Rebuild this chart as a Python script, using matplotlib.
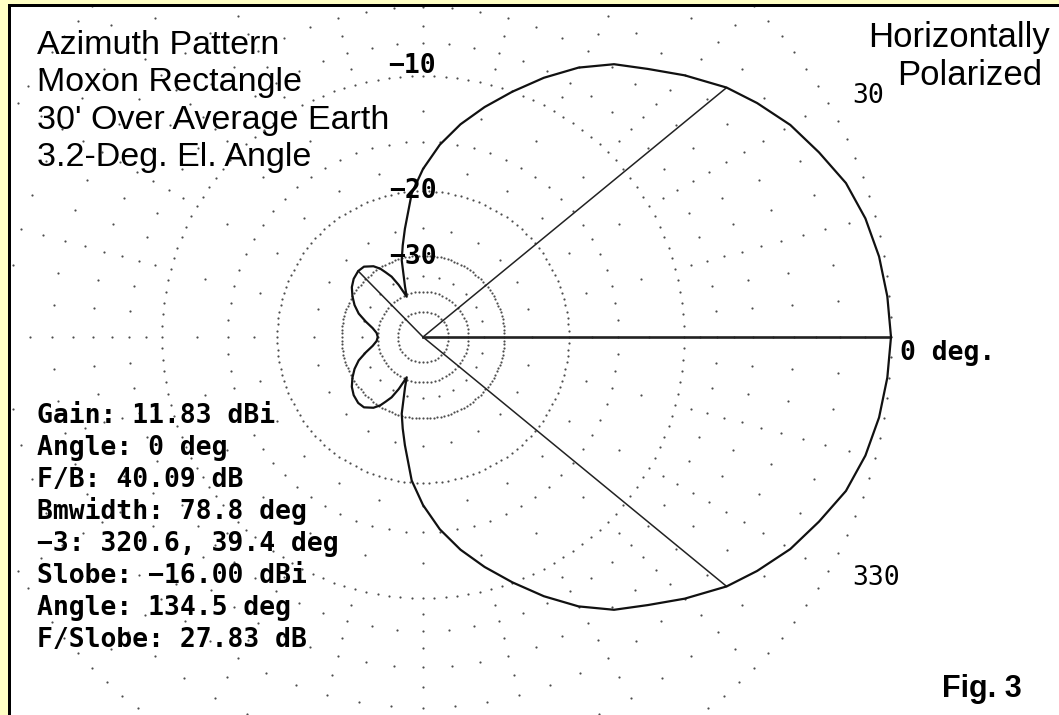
import numpy as np
import matplotlib
matplotlib.use('Agg')
import matplotlib.pyplot as plt
from matplotlib.patches import Rectangle

# azimuth pattern, dB relative to max (0..180 deg, the other half is its mirror)
az_deg = np.array([0, 5, 10, 15, 20, 25, 30, 35, 39.4, 45, 50, 55, 60, 65, 70, 75, 80, 85, 90,
                   94.5, 99.5, 102.5, 105.5, 109.7, 112, 115, 117.5, 120, 122, 125, 130, 134.5,
                   140, 145, 150, 155, 160, 165, 170, 175, 180])
rel_db = np.array([0, -0.07, -0.18, -0.37, -0.67, -1.18, -1.69, -2.36, -3.0, -4.03, -4.99, -5.84,
                   -7.01, -8.45, -10.02, -11.6, -13.27, -15.2, -17.58, -20.23, -24.9, -27.6,
                   -30.4, -37.3, -40.8, -36.0, -33.1, -31.5, -30.2, -29.0, -27.95, -27.83, -28.2,
                   -28.9, -30.0, -31.3, -33.0, -35.5, -38.0, -39.6, -40.09])

max_deg = 0.0
bw_deg = [39.4, 320.6]
bw_db = -3.0
slobe_deg = 134.5
slobe_db = -27.83

ring_db = [0, -10, -20, -30, -40, -50]
ring_step = [2.5, 2.5, 2.5, 2.5, 5, 9]
ring_labels = {-10: '\u221210', -20: '\u221220', -30: '\u221230'}
spoke_major = [-1, -2, -3, -4, -5, -6, -7, -8, -9, -12.5, -15, -17.5, -25, -35]
spoke_minor = [-2, -4, -6, -8, -15]

title_lines = ["Azimuth Pattern", "Moxon Rectangle", "30' Over Average Earth",
               "3.2-Deg. El. Angle"]
info_lines = ["Gain: 11.83 dBi", "Angle: 0 deg", "F/B: 40.09 dB", "Bmwidth: 78.8 deg",
              "\u22123: 320.6, 39.4 deg", "Slobe: \u221216.00 dBi", "Angle: 134.5 deg",
              "F/Slobe: 27.83 dB"]


def arrl(db):
    return 0.89 ** (-np.asarray(db, dtype=float) / 2)


def arrl_inv(r):
    return -2 * np.log(np.clip(r, 1e-12, None)) / np.log(0.89)


W, H = 1059, 715
cx, cy, R = 423, 337, 468
RMIN = -200
dotc = '#4d4d4d'

fig = plt.figure(figsize=(W / 100, H / 100), dpi=100, facecolor='white')
ax = fig.add_axes([(cx - R) / W, (H - cy - R) / H, 2 * R / W, 2 * R / H], projection='polar')
ax.set_rscale('function', functions=(arrl, arrl_inv))
ax.set_rlim(RMIN, 0)
ax.patch.set_visible(False)
ax.spines['polar'].set_visible(False)
ax.grid(False)
ax.set_xticks([])
ax.set_yticks([])

# dotted rings
for lev, st in zip(ring_db, ring_step):
    th = np.deg2rad(np.arange(0, 360, st))
    ax.scatter(th, np.full(th.shape, lev), s=2.5, c=dotc, linewidths=0, zorder=1, clip_on=False)

# dotted spokes
for a in range(0, 360, 5):
    levs = spoke_major if a % 15 == 0 else spoke_minor
    ax.scatter(np.full(len(levs), np.deg2rad(a)), levs, s=2.5, c=dotc, linewidths=0,
               zorder=1, clip_on=False)

# pattern
full_az = np.concatenate([az_deg, 360 - az_deg[::-1][1:]])
full_db = np.concatenate([rel_db, rel_db[::-1][1:]])
ax.plot(np.deg2rad(full_az), full_db, color='#111111', lw=1.6, zorder=3, clip_on=False)

# max gain, -3 dB and sidelobe lines
ax.plot([np.deg2rad(max_deg)] * 2, [RMIN, 0], color='#222222', lw=1.9, zorder=2)
for b in bw_deg:
    ax.plot([np.deg2rad(b)] * 2, [RMIN, bw_db], color='#222222', lw=1.1, zorder=2)
ax.plot([np.deg2rad(slobe_deg)] * 2, [RMIN, slobe_db], color='#222222', lw=1.1, zorder=2)

mono_b = dict(family='DejaVu Sans Mono', weight='bold', fontsize=19)
mono = dict(family='DejaVu Sans Mono', fontsize=19)
for lev, off in zip([-10, -20, -30], [(-35, 3), (-34, -7), (-34, -8)]):
    ax.annotate(ring_labels[lev], xy=(np.pi / 2, lev), xytext=off, textcoords='offset pixels',
                ha='left', va='baseline', zorder=4, **mono_b)
ax.annotate('30', xy=(np.deg2rad(30), 0), xytext=(24, 0), textcoords='offset pixels',
            ha='left', va='baseline', **mono)
ax.annotate('330', xy=(np.deg2rad(330), 0), xytext=(24, -14), textcoords='offset pixels',
            ha='left', va='baseline', **mono)
ax.annotate('0 deg.', xy=(0, 0), xytext=(9, -23), textcoords='offset pixels',
            ha='left', va='baseline', **mono_b)


def px(x, y):
    return x / W, 1 - y / H


for i, s in enumerate(title_lines):
    fig.text(*px(37, 54 + i * 37.4), s, family='Liberation Sans', fontsize=24.5, va='baseline')
fig.text(*px(1050, 47), 'Horizontally', family='Liberation Sans', fontsize=25,
         va='baseline', ha='right')
fig.text(*px(1042, 85), 'Polarized', family='Liberation Sans', fontsize=25,
         va='baseline', ha='right')
fig.text(*px(942, 697), 'Fig. 3', family='Liberation Sans', fontsize=22, weight='bold',
         va='baseline')

for i, s in enumerate(info_lines):
    fig.text(*px(37, 423 + i * 32), s, va='baseline', **mono_b)

# yellow margin and black frame
yel = '#ffffc4'
for x0, y0, w, h, c in [(0, 0, 8, H, yel), (0, 0, W, 4, yel),
                        (8, 4, 3, H, 'black'), (8, 4, W, 3, 'black')]:
    fig.patches.append(Rectangle(px(x0, y0 + h), w / W, h / H, transform=fig.transFigure,
                                 facecolor=c, edgecolor='none', zorder=10))

fig.savefig('out.png', dpi=100, facecolor=fig.get_facecolor())
